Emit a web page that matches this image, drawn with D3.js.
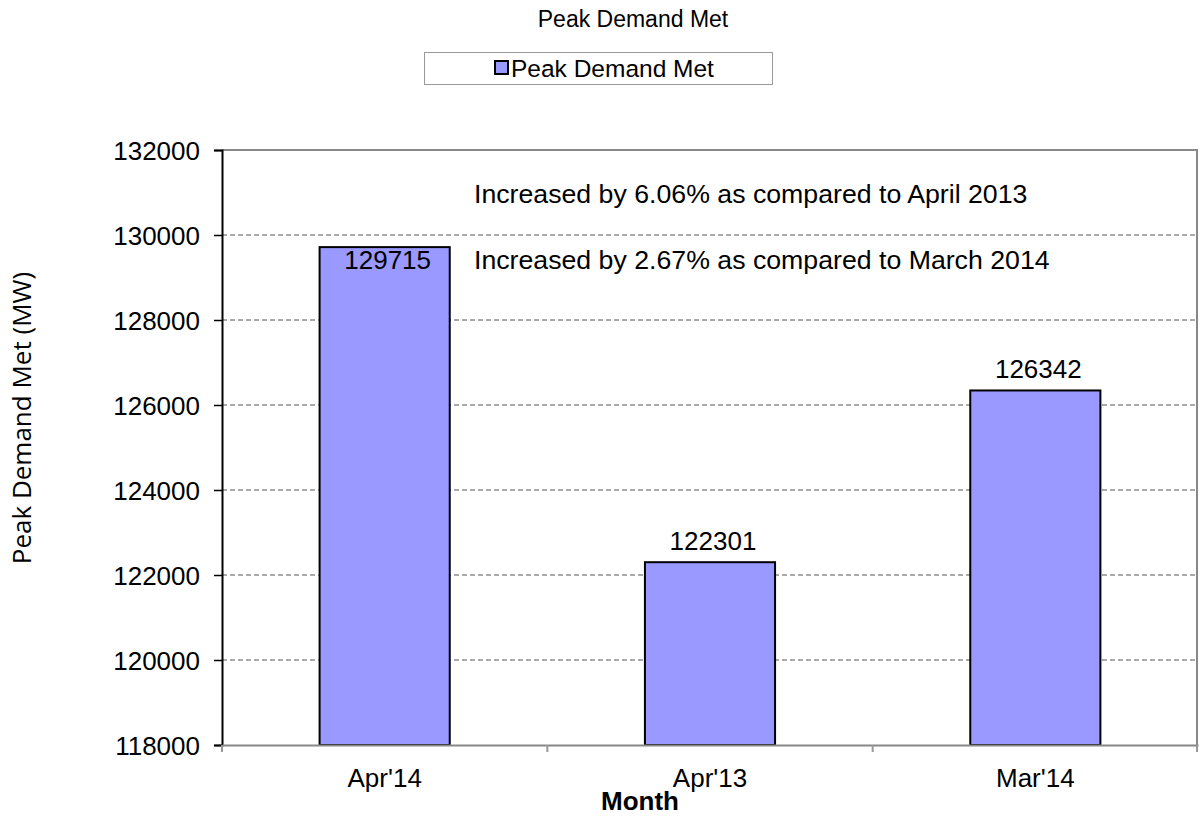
<!DOCTYPE html>
<html>
<head>
<meta charset="utf-8">
<script src="https://cdn.jsdelivr.net/npm/d3@7"></script>
<style>
  body { margin: 0; background: #fff; }
  text { font-family: "Liberation Sans", Arial, sans-serif; fill: #000; }
</style>
</head>
<body>
<div id="chart"></div>
<script>
// chart data
var months = ["Apr'14", "Apr'13", "Mar'14"];
var peakDemand = [129715, 122301, 126342];
var yTicks = [118000, 120000, 122000, 124000, 126000, 128000, 130000, 132000];
var notes = ["Increased by 6.06% as compared to April 2013",
             "Increased by 2.67% as compared to March 2014"];

var width = 1199, height = 817;
var margin = {left: 222, right: 1, top: 150, bottom: 72};

var svg = d3.select("#chart").append("svg")
    .attr("width", width)
    .attr("height", height);

var x = d3.scaleBand()
    .domain(months)
    .range([margin.left, width - margin.right])
    .paddingInner(0.6)
    .paddingOuter(0.3);

var y = d3.scaleLinear()
    .domain([118000, 132000])
    .range([height - margin.bottom, margin.top]);

// gridlines (dashed)
svg.append("g").selectAll("line")
    .data(yTicks.slice(1, -1))
    .enter().append("line")
    .attr("x1", margin.left).attr("x2", width - margin.right)
    .attr("y1", function(d) { return y(d); })
    .attr("y2", function(d) { return y(d); })
    .attr("stroke", "#555")
    .attr("stroke-width", 1)
    .attr("stroke-dasharray", "5,3");

// top and right border of plot area
svg.append("path")
    .attr("d", "M" + margin.left + "," + y(132000) + "H" + (width - margin.right - 1) + "V" + y(118000))
    .attr("fill", "none")
    .attr("stroke", "#888")
    .attr("stroke-width", 2);

// bars
svg.append("g").selectAll("rect")
    .data(peakDemand)
    .enter().append("rect")
    .attr("x", function(d, i) { return x(months[i]); })
    .attr("y", function(d) { return y(d); })
    .attr("width", x.bandwidth())
    .attr("height", function(d) { return y(118000) - y(d); })
    .attr("fill", "#9999ff")
    .attr("stroke", "#000")
    .attr("stroke-width", 2);

// data labels
svg.append("g").selectAll("text")
    .data(peakDemand)
    .enter().append("text")
    .attr("x", function(d, i) { return x(months[i]) + x.bandwidth() / 2 + 3; })
    .attr("y", function(d) { return d > 128000 ? y(d) + 22 : y(d) - 12; })
    .attr("text-anchor", "middle")
    .style("font-size", "26px")
    .text(function(d) { return d; });

// y axis
var yAxis = svg.append("g")
    .attr("transform", "translate(" + margin.left + ",0)")
    .call(d3.axisLeft(y).tickValues(yTicks).tickSize(8).tickPadding(14).tickFormat(d3.format("d")));
yAxis.select(".domain").attr("stroke", "#000").attr("stroke-width", 2);
yAxis.selectAll(".tick line").attr("stroke", "#000").attr("stroke-width", 1.5);
yAxis.selectAll(".tick text").style("font-size", "26px").attr("dy", "0.35em");

// x axis
var xAxis = svg.append("g")
    .attr("transform", "translate(0," + y(118000) + ")")
    .call(d3.axisBottom(x).tickSize(0).tickPadding(24));
xAxis.select(".domain").attr("stroke", "#888").attr("stroke-width", 2);
xAxis.selectAll(".tick text").style("font-size", "26px").attr("dy", "0.71em");

// x tick marks at category boundaries
var bounds = months.map(function(m) { return x(m) - x.step() * 0.3; });
bounds.push(width - margin.right - 1);
svg.append("g").selectAll("line")
    .data(bounds)
    .enter().append("line")
    .attr("x1", function(d) { return d; }).attr("x2", function(d) { return d; })
    .attr("y1", y(118000)).attr("y2", y(118000) + 7)
    .attr("stroke", "#999")
    .attr("stroke-width", 2);

// axis titles
svg.append("text")
    .attr("x", 640).attr("y", 810)
    .attr("text-anchor", "middle")
    .style("font-size", "26px")
    .style("font-weight", "bold")
    .text("Month");

svg.append("text")
    .attr("transform", "translate(31,418) rotate(-90)")
    .attr("text-anchor", "middle")
    .style("font-family", "'Open Sans', 'Noto Sans', sans-serif")
    .style("font-size", "26px")
    .text("Peak Demand Met (MW)");

// chart title
svg.append("text")
    .attr("x", 633).attr("y", 27)
    .attr("text-anchor", "middle")
    .style("font-size", "23px")
    .text("Peak Demand Met");

// legend
var legend = svg.append("g");
legend.append("rect")
    .attr("x", 424.5).attr("y", 52.5)
    .attr("width", 348).attr("height", 32)
    .attr("fill", "#fff")
    .attr("stroke", "#999")
    .attr("stroke-width", 1);
legend.append("rect")
    .attr("x", 495).attr("y", 61)
    .attr("width", 13).attr("height", 13)
    .attr("fill", "#9999ff")
    .attr("stroke", "#000")
    .attr("stroke-width", 2);
legend.append("text")
    .attr("x", 511).attr("y", 77)
    .style("font-size", "24.5px")
    .text("Peak Demand Met");

// annotations
svg.append("g").selectAll("text")
    .data(notes)
    .enter().append("text")
    .attr("x", 474)
    .attr("y", function(d, i) { return 203 + i * 66; })
    .style("font-size", "26.7px")
    .text(function(d) { return d; });
</script>
</body>
</html>
